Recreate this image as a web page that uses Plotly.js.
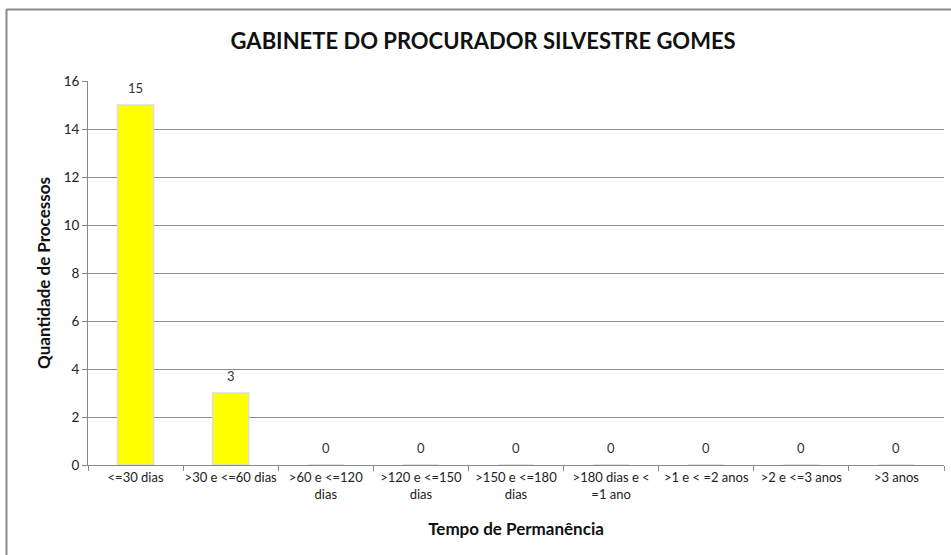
<!DOCTYPE html>
<html>
<head>
<meta charset="utf-8">
<script src="https://cdn.plot.ly/plotly-3.0.1.min.js"></script>
<style>html,body{margin:0;padding:0;background:#fff;}#chart{width:951px;height:555px;}</style>
</head>
<body>
<div id="chart"></div>
<script>
var categories = ["&lt;=30 dias", "&gt;30 e &lt;=60 dias", "&gt;60 e &lt;=120<br>dias", "&gt;120 e &lt;=150<br>dias", "&gt;150 e &lt;=180<br>dias", "&gt;180 dias e &lt;<br>=1 ano", "&gt;1 e &lt; =2 anos", "&gt;2 e &lt;=3 anos", "&gt;3 anos"];
var values = [15, 3, 0, 0, 0, 0, 0, 0, 0];
var yTicks = [0, 2, 4, 6, 8, 10, 12, 14, 16];

var L = 88, R = 7, T = 81, B = 90, W = 951, H = 555;
var pw = W - L - R, ph = H - T - B;
function px(x){ return (x - L) / pw; }
function py(y){ return (H - B - y) / ph; }

var trace = {
  type: 'bar',
  x: categories,
  y: values,
  marker: {color: '#ffff00', line: {color: '#dcdcdc', width: 1.5}},
  cliponaxis: false,
  hoverinfo: 'none'
};

var labels = categories.map(function(c, i){
  return {x: c, y: values[i], xref: 'x', yref: 'y', text: String(values[i]), showarrow: false,
          yanchor: 'bottom', yshift: 7, font: {family: 'Lato, Carlito, sans-serif', size: 13, color: '#333'}};
});

var layout = {
  width: W, height: H,
  margin: {l: L, r: R, t: T, b: B},
  paper_bgcolor: '#fff', plot_bgcolor: '#fff',
  bargap: 0.62,
  showlegend: false,
  font: {family: 'Lato, Carlito, sans-serif', size: 13, color: '#222'},
  title: {text: '<b>GABINETE DO PROCURADOR SILVESTRE GOMES</b>', x: 0.508, xref: 'container', xanchor: 'center', y: 0.925, yref: 'container', yanchor: 'middle',
          font: {family: 'Lato, Carlito, sans-serif', size: 22, color: '#111'}},
  xaxis: {
    type: 'category',
    tickson: 'boundaries',
    tickangle: 0,
    ticks: 'outside', ticklen: 5, tickcolor: '#888',
    showline: true, linecolor: '#888', linewidth: 1,
    showgrid: false,
    tickfont: {size: 13, color: '#222'},
    title: {text: '<b>Tempo de Permanência</b>', font: {size: 17, color: '#111'}, standoff: 22}
  },
  yaxis: {
    range: [0, 16],
    tickvals: yTicks,
    ticktext: yTicks.map(String),
    ticks: 'outside', ticklen: 5, tickcolor: '#888',
    showline: true, linecolor: '#888', linewidth: 1,
    showgrid: true, gridcolor: '#8c8c8c', gridwidth: 1,
    zeroline: false,
    tickfont: {size: 13.5, color: '#222'},
    title: {text: '<b>Quantidade de Processos</b>', font: {size: 17, color: '#111'}, standoff: 8}
  },
  annotations: labels,
  shapes: [
    {type: 'line', xref: 'paper', yref: 'paper', x0: px(6.5), x1: px(6.5), y0: py(9), y1: py(555), line: {color: '#8a8a8a', width: 2}},
    {type: 'line', xref: 'paper', yref: 'paper', x0: px(6), x1: px(951), y0: py(9.5), y1: py(9.5), line: {color: '#8a8a8a', width: 2}}
  ]
};

Plotly.newPlot('chart', [trace], layout, {displayModeBar: false, staticPlot: true});
</script>
</body>
</html>
